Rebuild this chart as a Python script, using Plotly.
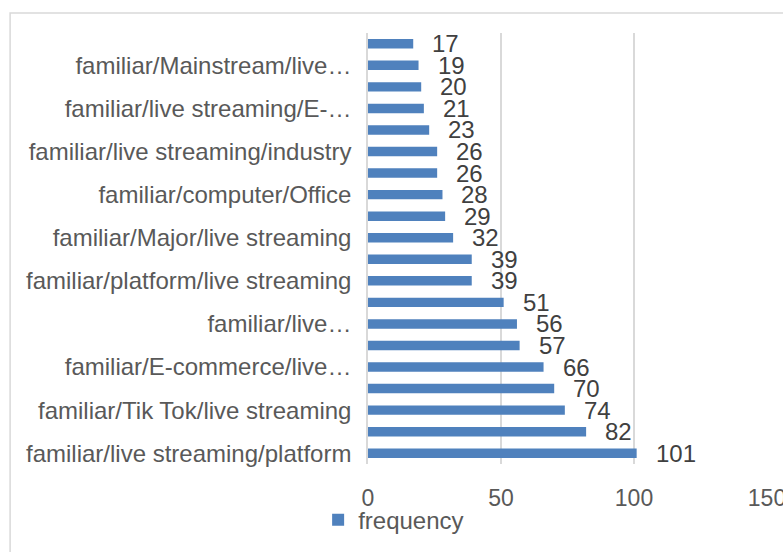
import plotly.graph_objects as go

# Frequencies, listed from the bottom bar to the top bar
frequency = [101, 82, 74, 70, 66, 57, 56, 51, 39, 39, 32, 29, 28, 26, 26, 23, 21, 20, 19, 17]

# Axis labels printed on every second category (bottom to top)
tick_labels = [
    "familiar/live streaming/platform",
    "familiar/Tik Tok/live streaming",
    "familiar/E-commerce/live…",
    "familiar/live…",
    "familiar/platform/live streaming",
    "familiar/Major/live streaming",
    "familiar/computer/Office",
    "familiar/live streaming/industry",
    "familiar/live streaming/E-…",
    "familiar/Mainstream/live…",
]
x_ticks = [0, 50, 100, 150]

positions = list(range(len(frequency)))
label_positions = positions[::2]

FONT = "Liberation Sans"
BAR = "#4f81bd"
GRID = "#d9d9d9"
TEXT = "#595959"

fig = go.Figure(
    go.Bar(
        x=frequency,
        y=positions,
        orientation="h",
        marker=dict(color=BAR, line=dict(width=0)),
        width=0.44,
        name="frequency",
        showlegend=True,
    )
)

# value labels at the end of each bar
for pos, val in zip(positions, frequency):
    fig.add_annotation(
        x=val, y=pos, text=str(val), showarrow=False,
        xanchor="left", yanchor="middle", xshift=17,
        font=dict(family=FONT, size=24, color="#404040"),
    )

# chart-area frame
fig.add_shape(
    type="rect", xref="paper", yref="paper",
    x0=-0.897, x1=1.08, y0=-0.25, y1=1.0465,
    line=dict(color=GRID, width=1.5), fillcolor="rgba(0,0,0,0)", layer="below",
)

fig.update_layout(
    width=783, height=552,
    margin=dict(l=368, r=16, t=33, b=88, autoexpand=False),
    paper_bgcolor="white", plot_bgcolor="white",
    font=dict(family=FONT, color=TEXT),
    bargap=0.56,
    legend=dict(
        orientation="h", x=-0.125, xanchor="left", y=-0.13, yanchor="middle",
        font=dict(family=FONT, size=24, color=TEXT),
        bgcolor="rgba(0,0,0,0)",
    ),
    xaxis=dict(
        range=[0, 150], tickvals=x_ticks, showgrid=True, gridcolor=GRID, gridwidth=1.5,
        zeroline=False, showline=False, ticks="", automargin=False,
        tickfont=dict(family=FONT, size=23, color=TEXT), ticklabelstandoff=18,
        ticklabeloverflow="allow", fixedrange=True,
    ),
    yaxis=dict(
        range=[-0.5, len(frequency) - 0.5], tickvals=label_positions, ticktext=tick_labels,
        showgrid=False, zeroline=False, showline=True, linecolor=GRID, linewidth=1.5,
        ticks="", automargin=False, tickfont=dict(family=FONT, size=24, color=TEXT),
        ticklabelstandoff=10, fixedrange=True,
    ),
)

fig.write_html("out.html")
